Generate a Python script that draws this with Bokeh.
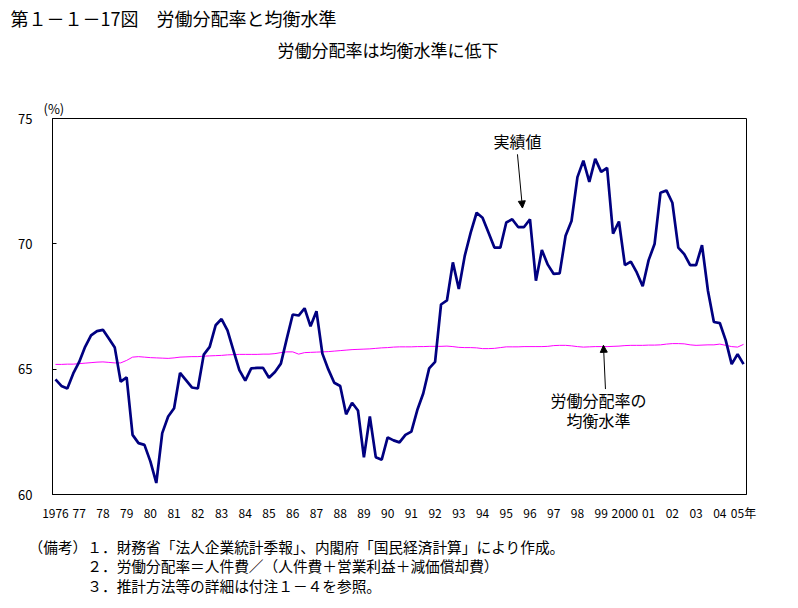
from bokeh.plotting import figure
from bokeh.models import Range1d, FixedTicker, Label, Arrow, NormalHead, Title
from bokeh.embed import file_html
from bokeh.resources import INLINE

# Quarterly data 1976Q1 - 2005Q1 (index 0 = 1976Q1)
actual = [
    64.59, 64.33, 64.23, 64.83, 65.29, 65.89, 66.35, 66.52, 66.57, 66.22,
    65.86, 64.50, 64.67, 62.38, 62.05, 61.98, 61.32, 60.46, 62.45, 63.11,
    63.44, 64.85, 64.56, 64.27, 64.23, 65.58, 65.89, 66.75, 67.00, 66.55,
    65.75, 64.96, 64.54, 65.03, 65.05, 65.05, 64.66, 64.89, 65.22, 66.22,
    67.18, 67.14, 67.43, 66.71, 67.31, 65.62, 64.99, 64.46, 64.33, 63.20,
    63.66, 63.35, 61.48, 63.11, 61.49, 61.39, 62.28, 62.16, 62.08, 62.38,
    62.51, 63.37, 64.03, 65.03, 65.29, 67.58, 67.74, 69.26, 68.20, 69.52,
    70.45, 71.24, 71.04, 70.45, 69.85, 69.85, 70.85, 70.98, 70.67, 70.67,
    70.98, 68.53, 69.75, 69.17, 68.80, 68.82, 70.32, 70.91, 72.66, 73.32,
    72.47, 73.39, 72.87, 73.03, 70.41, 70.89, 69.15, 69.29, 68.86, 68.31,
    69.35, 69.99, 72.04, 72.13, 71.64, 69.85, 69.59, 69.15, 69.15, 69.95,
    68.13, 66.88, 66.84, 66.15, 65.20, 65.60, 65.20,
]
equilibrium = [
    65.19, 65.19, 65.20, 65.20, 65.22, 65.24, 65.26, 65.28, 65.29, 65.27,
    65.25, 65.25, 65.35, 65.48, 65.50, 65.48, 65.46, 65.45, 65.44, 65.43,
    65.45, 65.48, 65.49, 65.50, 65.50, 65.52, 65.53, 65.54, 65.55, 65.57,
    65.58, 65.59, 65.59, 65.59, 65.59, 65.60, 65.60, 65.62, 65.66, 65.69,
    65.69, 65.60, 65.66, 65.67, 65.68, 65.69, 65.70, 65.72, 65.74, 65.76,
    65.78, 65.79, 65.80, 65.81, 65.83, 65.85, 65.86, 65.88, 65.89, 65.89,
    65.89, 65.90, 65.90, 65.91, 65.91, 65.91, 65.92, 65.90, 65.87, 65.86,
    65.86, 65.85, 65.82, 65.82, 65.83, 65.86, 65.89, 65.89, 65.89, 65.90,
    65.90, 65.90, 65.90, 65.91, 65.94, 65.95, 65.95, 65.93, 65.90, 65.88,
    65.89, 65.90, 65.90, 65.90, 65.91, 65.92, 65.94, 65.95, 65.95, 65.95,
    65.96, 65.96, 65.97, 66.00, 66.02, 66.02, 66.01, 65.97, 65.95, 65.96,
    65.97, 65.97, 66.00, 65.95, 65.90, 65.88, 65.99,
]
quarter_index = list(range(len(actual)))
year_labels = ["1976"] + ["%02d" % (y % 100) for y in range(1977, 2000)] + ["2000"] + \
              ["%02d" % (y % 100) for y in range(2001, 2005)] + ["05年"]
y_ticks = [60, 65, 70, 75]

FONT = "Noto Sans CJK JP"

p = figure(width=790, height=608, output_backend="svg", toolbar_location=None,
           x_range=Range1d(-0.5, 116.5), y_range=Range1d(60, 75),
           min_border_left=52, min_border_right=44, min_border_top=117,
           min_border_bottom=113)
p.title.visible = False
p.background_fill_color = "white"
p.border_fill_color = "white"
p.outline_line_color = "black"
p.outline_line_width = 1
p.grid.visible = False

p.line(quarter_index, equilibrium, line_color="#FF00FF", line_width=1)
p.line(quarter_index, actual, line_color="#000080", line_width=2.7)

# axes
xa = p.xaxis[0]
xa.ticker = FixedTicker(ticks=[4 * k for k in range(len(year_labels))])
xa.major_label_overrides = {4 * k: lab for k, lab in enumerate(year_labels)}
xa.major_tick_in = 0
xa.major_tick_out = 0
xa.minor_tick_in = 0
xa.minor_tick_out = 0
xa.major_label_standoff = 9
xa.major_label_text_font = FONT
xa.major_label_text_font_size = "12px"
xa.major_label_text_color = "black"
xa.axis_line_color = "black"

ya = p.yaxis[0]
ya.ticker = FixedTicker(ticks=y_ticks)
ya.major_tick_in = 4
ya.major_tick_out = 0
ya.minor_tick_in = 0
ya.minor_tick_out = 0
ya.major_label_standoff = 20
ya.major_label_text_font = FONT
ya.major_label_text_font_size = "13px"
ya.major_label_text_color = "black"
ya.axis_line_color = "black"


def add_title(text, side, size, offset, standoff, line_height=1.2):
    p.add_layout(Title(text=text, align="left", offset=offset, vertical_align="middle",
                       standoff=standoff, text_font=FONT, text_font_size=size,
                       text_font_style="normal", text_color="black",
                       text_line_height=line_height), side)


# above: listed from the frame outward
add_title("(%)", "above", "13px", -9, 0)
add_title(" ", "above", "13px", 0, 13.8)
add_title("労働分配率は均衡水準に低下", "above", "17px", 225, 0)
add_title("第１－１－17図　労働分配率と均衡水準", "above", "18px", -42, 6.9)

# below the x axis: the notes
notes = ("（備考）１．財務省「法人企業統計季報」、内閣府「国民経済計算」により作成。\n"
         "　　　　２．労働分配率＝人件費／（人件費＋営業利益＋減価償却費）\n"
         "　　　　３．推計方法等の詳細は付注１－４を参照。")
add_title(notes, "below", "14.7px", -24, 23.9, line_height=0.915)

PX = 694.0 / 117.0
PY = 378.0 / 15.0


def dx(px):
    return (px - 55.0) / PX


def dy(py):
    return 75.0 - (py - 117.0) / PY


def lab(text, px, py, size, align="left"):
    p.add_layout(Label(x=dx(px), y=dy(py), text=text, text_font=FONT,
                       text_font_size=size, text_align=align,
                       text_baseline="middle", text_color="black"))


lab("実績値", 517, 140, "16px", "center")
lab("労働分配率の", 598, 400, "16px", "center")
lab("均衡水準", 598, 420, "16px", "center")

p.add_layout(Arrow(end=NormalHead(size=7, fill_color="black", line_color="black"),
                   x_start=dx(517), y_start=dy(153), x_end=dx(522), y_end=dy(207),
                   line_color="black", line_width=1))
p.add_layout(Arrow(end=NormalHead(size=7, fill_color="black", line_color="black"),
                   x_start=dx(605), y_start=dy(389), x_end=dx(603), y_end=dy(345),
                   line_color="black", line_width=1))

open("out.html", "w").write(file_html(p, INLINE))
